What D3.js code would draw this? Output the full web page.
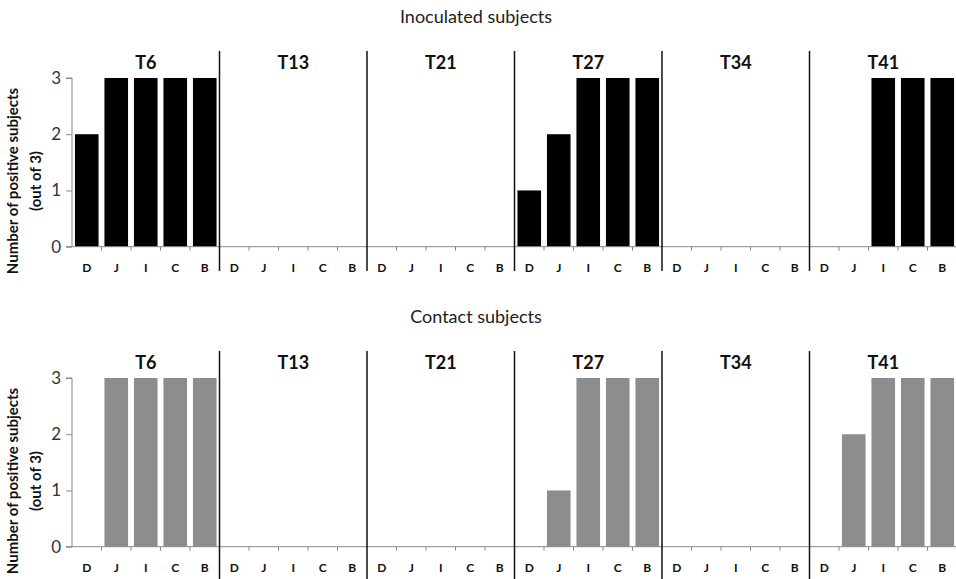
<!DOCTYPE html>
<html><head><meta charset="utf-8">
<script src="https://cdn.jsdelivr.net/npm/d3@7"></script>
<style>body{margin:0;background:#fff}svg{display:block;font-family:Lato,"Open Sans",sans-serif}</style>
</head><body><svg id="c" width="956" height="579"></svg>
<script>
const groups = ["T6","T13","T21","T27","T34","T41"];
const categories = ["D","J","I","C","B"];
const yTicks = [0,1,2,3];
const inoculated = [2,3,3,3,3, 0,0,0,0,0, 0,0,0,0,0, 1,2,3,3,3, 0,0,0,0,0, 0,0,3,3,3];
const contact    = [0,3,3,3,3, 0,0,0,0,0, 0,0,0,0,0, 0,1,3,3,3, 0,0,0,0,0, 0,2,3,3,3];
const panels = [
  {title:"Inoculated subjects", values: inoculated, color:"#000000", top:0},
  {title:"Contact subjects", values: contact, color:"#8c8d8e", top:300}
];

const svg = d3.select("#c");
const left = 72, right = 957;
const keys = [];
groups.forEach(g => categories.forEach(c => keys.push(g+"|"+c)));
const x = d3.scaleBand().domain(keys).range([left,right]).paddingInner(0.2).paddingOuter(0.1);
const gx = d3.scaleBand().domain(groups).range([left,right]);

panels.forEach(p => {
  const g = svg.append("g").attr("transform",`translate(0,${p.top})`);
  const y = d3.scaleLinear().domain([0,3]).range([246.7,78]);
  g.append("text").attr("x",476).attr("y",23).attr("text-anchor","middle")
    .attr("font-size",18).attr("fill","#222").text(p.title);
  // y label
  const yl = g.append("text").attr("transform","translate(0,181) rotate(-90)")
    .attr("text-anchor","middle").attr("font-size",15).attr("font-weight","bold").attr("fill","#111");
  yl.append("tspan").attr("x",0).attr("y",18).text("Number of positive subjects");
  yl.append("tspan").attr("x",0).attr("y",41).text("(out of 3)");
  // y axis
  const ya = g.append("g").attr("transform",`translate(${left},0)`)
    .call(d3.axisLeft(y).tickValues(yTicks).tickSize(6).tickPadding(5).tickFormat(d3.format("d")));
  ya.select(".domain").attr("stroke","#888").attr("d",`M-6,${y(3)}H0V${y(0)}`);
  ya.selectAll(".tick line").attr("stroke","#888");
  ya.selectAll(".tick text").attr("font-size",17).attr("fill","#333").attr("font-family","Lato,sans-serif");
  // bars
  g.selectAll("rect.bar").data(p.values).join("rect").attr("class","bar")
    .attr("x",(d,i)=>x(keys[i])).attr("width",x.bandwidth())
    .attr("y",d=>y(d)).attr("height",d=>y(0)-y(d)).attr("fill",p.color);
  // x axis baseline
  g.append("line").attr("x1",left-6).attr("x2",right).attr("y1",y(0)).attr("y2",y(0)).attr("stroke","#888");
  const bounds = d3.range(1,30).filter(i=>i%5!==0).map(i=>left + i*(right-left)/30);
  g.selectAll("line.xt").data(bounds).join("line").attr("class","xt")
    .attr("x1",d=>d).attr("x2",d=>d).attr("y1",y(0)).attr("y2",y(0)+4).attr("stroke","#888");
  // category labels
  g.selectAll("text.cat").data(keys).join("text").attr("class","cat")
    .attr("x",d=>left + (keys.indexOf(d)+0.5)*(right-left)/30).attr("y",271.5)
    .attr("text-anchor","middle").attr("font-size",12).attr("font-weight","bold").attr("fill","#111")
    .text(d=>d.split("|")[1]);
  // group labels
  g.selectAll("text.grp").data(groups).join("text").attr("class","grp")
    .attr("x",d=>gx(d)+gx.bandwidth()/2).attr("y",68.5).attr("text-anchor","middle")
    .attr("font-size",18).attr("font-weight","bold").attr("fill","#111").text(d=>d);
  // separators
  g.selectAll("line.sep").data(groups.slice(1)).join("line").attr("class","sep")
    .attr("x1",d=>gx(d)).attr("x2",d=>gx(d)).attr("y1",51).attr("y2",p.top?290:271)
    .attr("stroke","#111").attr("stroke-width",1.5);
});
</script></body></html>
